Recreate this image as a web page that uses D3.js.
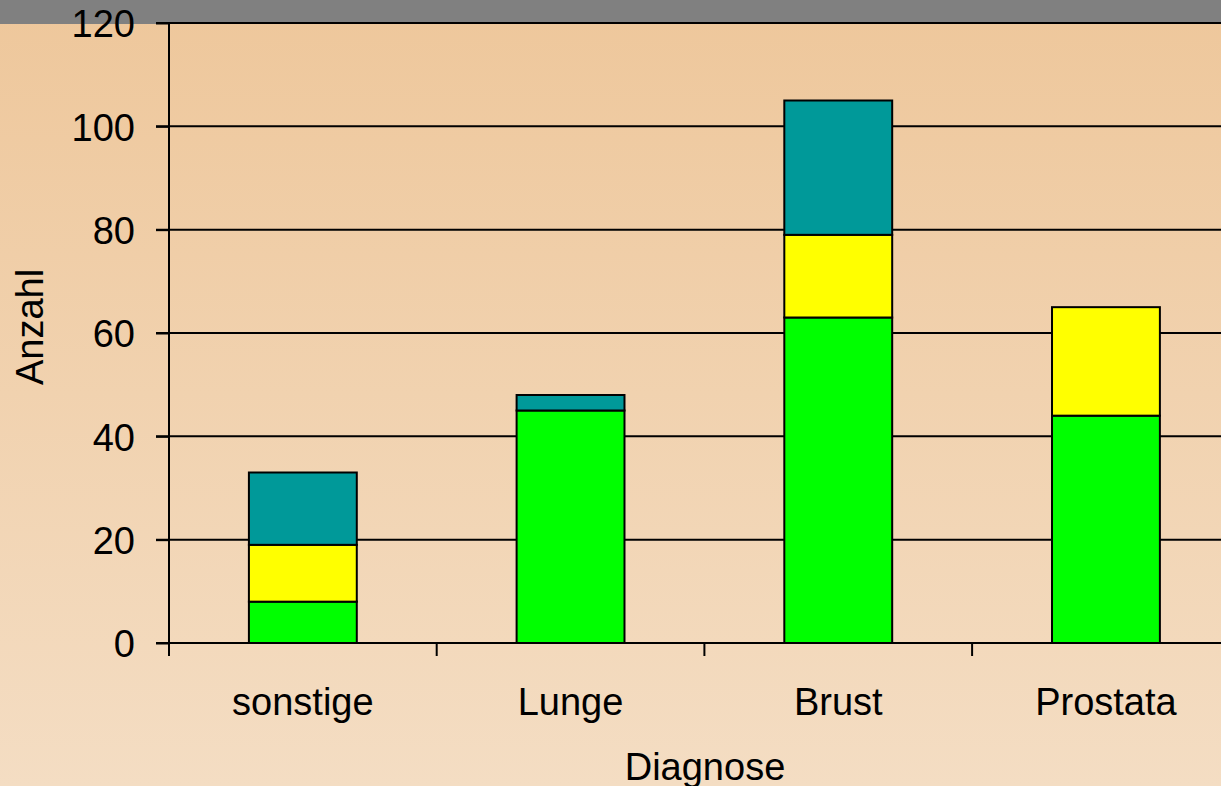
<!DOCTYPE html>
<html lang="de">
<head>
  <meta charset="utf-8" />
  <title>Diagnose</title>
  <script src="https://cdn.jsdelivr.net/npm/d3@7"></script>
  <style>
    html, body { margin: 0; padding: 0; overflow: hidden; background: #f4ddc3; }
    text { font-family: "Liberation Sans", Arial, sans-serif; fill: #000; }
  </style>
</head>
<body>
  <script>
    // Daten
    var categories = ["sonstige", "Lunge", "Brust", "Prostata"];
    var seriesGreen = [8, 45, 63, 44];
    var seriesYellow = [11, 0, 16, 21];
    var seriesTeal = [14, 3, 26, 0];
    var yTicks = [0, 20, 40, 60, 80, 100, 120];

    var width = 1221, height = 786;
    var plotLeft = 169, plotTop = 23, plotBottom = 643;
    var step = 267.7;
    var fontSize = 38;

    var svg = d3.select("body").append("svg")
      .attr("width", width)
      .attr("height", height);

    // Hintergrund
    var defs = svg.append("defs");
    var grad = defs.append("linearGradient")
      .attr("id", "bg").attr("x1", 0).attr("y1", 0).attr("x2", 0).attr("y2", 1);
    grad.append("stop").attr("offset", "0%").attr("stop-color", "#eec79b");
    grad.append("stop").attr("offset", "100%").attr("stop-color", "#f4ddc3");

    svg.append("rect").attr("x", 0).attr("y", 0).attr("width", width).attr("height", height)
      .attr("fill", "url(#bg)");
    svg.append("rect").attr("x", 0).attr("y", 0).attr("width", width).attr("height", 24)
      .attr("fill", "#808080");

    var x = d3.scaleBand()
      .domain(categories)
      .range([plotLeft, plotLeft + step * categories.length])
      .paddingInner(0.597)
      .paddingOuter(0.2985);

    var y = d3.scaleLinear().domain([0, 120]).range([plotBottom, plotTop]);

    // Gitterlinien
    svg.append("g")
      .selectAll("line")
      .data(yTicks)
      .enter()
      .append("line")
      .attr("x1", plotLeft - 13)
      .attr("x2", width)
      .attr("y1", function (d) { return y(d); })
      .attr("y2", function (d) { return y(d); })
      .attr("stroke", "#000")
      .attr("stroke-width", 2);

    // Y-Achse
    var yAxis = svg.append("g")
      .attr("transform", "translate(" + plotLeft + ",0)")
      .call(d3.axisLeft(y).tickValues(yTicks).tickSize(13).tickPadding(21));
    yAxis.select(".domain").remove();
    yAxis.selectAll("line").attr("stroke", "#000").attr("stroke-width", 2);
    yAxis.selectAll("text")
      .attr("font-size", fontSize)
      .attr("font-family", "Liberation Sans, Arial, sans-serif")
      .attr("dy", "0.36em");

    svg.append("line")
      .attr("x1", plotLeft).attr("x2", plotLeft)
      .attr("y1", plotTop).attr("y2", plotBottom + 13)
      .attr("stroke", "#000").attr("stroke-width", 2);

    // Balken (gestapelt)
    var stackData = categories.map(function (c, i) {
      return { cat: c, green: seriesGreen[i], yellow: seriesYellow[i], teal: seriesTeal[i] };
    });
    var keys = ["green", "yellow", "teal"];
    var colors = { green: "#00ff00", yellow: "#ffff00", teal: "#009999" };
    var stacked = d3.stack().keys(keys)(stackData);

    svg.append("g")
      .selectAll("g")
      .data(stacked)
      .enter()
      .append("g")
      .attr("fill", function (d) { return colors[d.key]; })
      .selectAll("rect")
      .data(function (d) { return d.filter(function (s) { return s[1] - s[0] > 0; }); })
      .enter()
      .append("rect")
      .attr("x", function (d) { return x(d.data.cat); })
      .attr("width", x.bandwidth())
      .attr("y", function (d) { return y(d[1]); })
      .attr("height", function (d) { return y(d[0]) - y(d[1]); })
      .attr("stroke", "#000")
      .attr("stroke-width", 2);

    // X-Achse
    svg.append("line")
      .attr("x1", plotLeft).attr("x2", width)
      .attr("y1", plotBottom).attr("y2", plotBottom)
      .attr("stroke", "#000").attr("stroke-width", 2);

    svg.append("g")
      .selectAll("line")
      .data(d3.range(categories.length + 1))
      .enter()
      .append("line")
      .attr("x1", function (i) { return plotLeft + i * x.step(); })
      .attr("x2", function (i) { return plotLeft + i * x.step(); })
      .attr("y1", plotBottom)
      .attr("y2", plotBottom + 13)
      .attr("stroke", "#000")
      .attr("stroke-width", 2);

    svg.append("g")
      .selectAll("text")
      .data(categories)
      .enter()
      .append("text")
      .attr("x", function (d) { return x(d) + x.bandwidth() / 2; })
      .attr("y", 715)
      .attr("text-anchor", "middle")
      .attr("font-size", fontSize)
      .text(function (d) { return d; });

    // Achsentitel
    svg.append("text")
      .attr("x", 705)
      .attr("y", 780)
      .attr("text-anchor", "middle")
      .attr("font-size", fontSize)
      .text("Diagnose");

    svg.append("text")
      .attr("transform", "translate(43,327) rotate(-90)")
      .attr("text-anchor", "middle")
      .attr("font-size", fontSize)
      .text("Anzahl");
  </script>
</body>
</html>
